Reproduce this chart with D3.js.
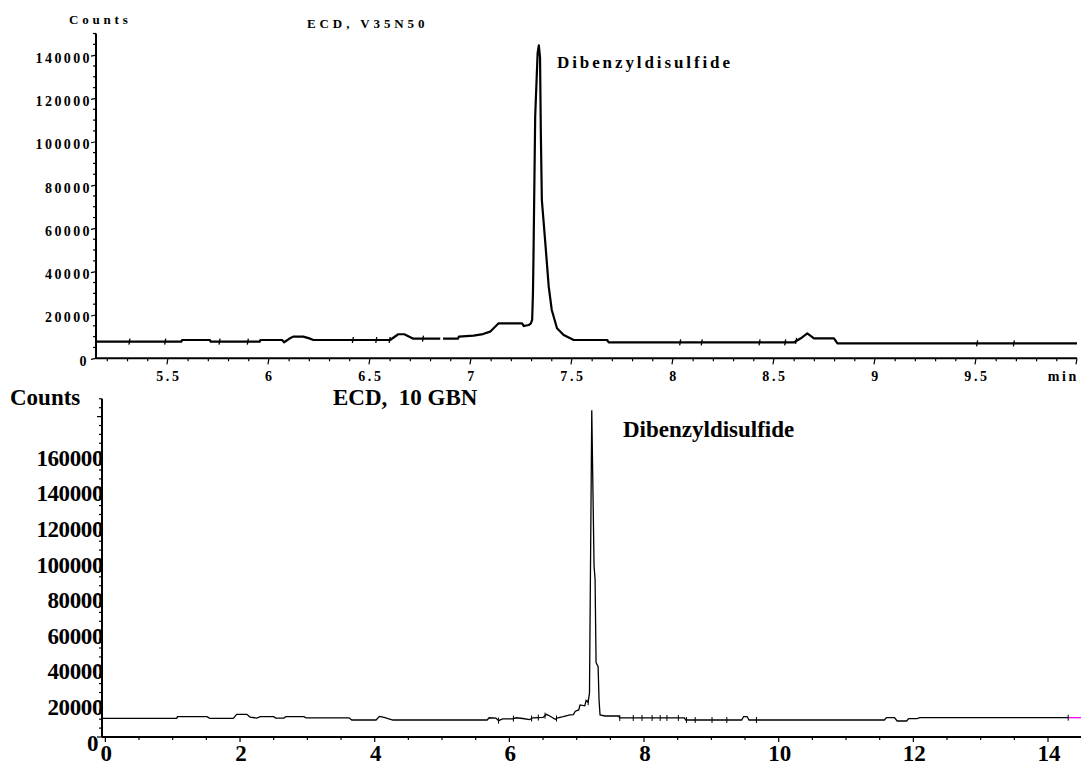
<!DOCTYPE html>
<html>
<head>
<meta charset="utf-8">
<script src="https://cdn.jsdelivr.net/npm/d3@7/dist/d3.min.js"></script>
<style>
  body { margin: 0; background: #fff; }
  svg { display: block; }
  text { font-family: "Liberation Serif", "Times New Roman", serif; font-weight: bold; fill: #000; }
</style>
</head>
<body>
<svg id="chart" width="1081" height="763"></svg>
<script>
// top chromatogram (ECD, V35N50), minutes / counts
let topTimes = [5.144, 5.566, 5.57, 5.708, 5.712, 5.954, 5.958, 6.065, 6.075, 6.1, 6.12, 6.17, 6.2, 6.22,
    6.6, 6.64, 6.67, 6.715, 6.848, null, 6.862, 6.935, 6.94, 7.013, 7.06, 7.095, 7.137, 7.253, 7.262,
    7.286, 7.296, 7.303, 7.307, 7.31, 7.318, 7.33, 7.336, 7.342, 7.346, 7.351, 7.367, 7.385, 7.40,
    7.426, 7.459, 7.509, 7.674, 7.682, 8.6, 8.633, 8.665, 8.698, 8.797, 8.814, 10.0];
let topCounts = [7670, 7670, 8450, 8450, 7670, 7670, 8450, 8450, 7400, 9000, 10000, 10000, 9200, 8450,
    8450, 11100, 11100, 9050, 9050, null, 9050, 9050, 10000, 10500, 11200, 12300, 16170, 16170, 14900,
    15400, 16000, 17700, 30160, 50000, 111600, 140900, 144500, 139000, 104000, 73100, 54600, 33100, 22300,
    13860, 10760, 8450, 8450, 7390, 7390, 9240, 11550, 9240, 9240, 6930, 6930];
let topMarkTimes = [5.312, 5.489, 5.758, 5.898, 6.418, 6.534, 6.6, 6.765, 8.038, 8.145, 8.431, 8.558, 8.612, 9.508, 9.69];
let topXTicks = [5.5, 6, 6.5, 7, 7.5, 8, 8.5, 9, 9.5];
let topYTicks = [0, 20000, 40000, 60000, 80000, 100000, 120000, 140000];

// bottom chromatogram (ECD, 10 GBN)
let bottomTimes = [-0.05, 1.06, 1.07, 1.51, 1.55, 1.9, 1.95, 2.1, 2.15, 2.25, 2.3, 2.5, 2.53, 2.65, 2.68,
    2.95, 2.98, 3.62, 3.66, 4.02, 4.07, 4.14, 4.27, 5.67, 5.7, 5.8, 5.84, 5.9, 6.05, 6.1, 6.2, 6.3, 6.35,
    6.5, 6.55, 6.6, 6.68, 6.72, 6.8, 6.9, 6.95, 6.98, 7.03, 7.05, 7.12, 7.14, 7.17, 7.19, 7.224, 7.258,
    7.273, 7.288, 7.318, 7.332, 7.347, 7.42, 7.62, 7.64, 8.6, 8.62, 9.45, 9.48, 9.53, 9.56, 11.57, 11.6,
    11.72, 11.76, 11.9, 11.93, 12.05, 12.1, 14.49];
let bottomCounts = [10500, 10500, 11400, 11400, 10500, 10500, 12750, 12750, 11200, 10600, 11400, 11400, 10600, 10600, 11400,
    11400, 10800, 10800, 9550, 9550, 11600, 11000, 9550, 9550, 10800, 10600, 9200, 10200, 10200, 10800, 10400, 9800, 10800,
    11000, 12700, 11800, 10000, 10800, 11400, 12400, 12600, 14500, 15200, 18000, 17500, 20500, 19500, 24800, 183600, 96000,
    88700, 41800, 39500, 20900, 12400, 11800, 11800, 10700, 10700, 9550, 9550, 11500, 11500, 9550, 9550, 10850,
    10850, 9000, 9000, 10300, 10300, 10850, 10850];
let bottomMarkTimes = [5.84, 6.06, 6.33, 6.43, 6.53, 6.70, 7.17, 7.64, 7.84, 7.97, 8.12, 8.24, 8.34, 8.51, 8.63, 8.76, 9.01, 9.23, 9.67, 14.3];
let bottomMagentaFrom = 14.3;
let bottomXTicks = [0, 2, 4, 6, 8, 10, 12, 14];
let bottomYTicks = [0, 20000, 40000, 60000, 80000, 100000, 120000, 140000, 160000];

let svg = d3.select("#chart");

function toPoints(times, counts) {
    return times.map(function(t, i) { return t === null ? null : [t, counts[i]]; });
}

// value of the trace at a given time, used to sit the integrator marks on the line
function traceValueAt(points, t) {
    let pts = points.filter(function(p) { return p !== null; });
    let i = d3.bisector(function(p) { return p[0]; }).left(pts, t);
    if (i <= 0) return pts[0][1];
    if (i >= pts.length) return pts[pts.length - 1][1];
    let a = pts[i - 1], b = pts[i];
    return a[1] + (b[1] - a[1]) * (t - a[0]) / (b[0] - a[0]);
}

/* ---------------- top panel ---------------- */
let xTop = d3.scaleLinear().domain([5.144, 10.0]).range([96, 1077]);
let yTop = d3.scaleLinear().domain([0, 150000]).range([358.3, 33.5]);
let topPoints = toPoints(topTimes, topCounts);

// minor + major ticks, y axis
d3.range(0, 150001, 5000).forEach(function(v) {
    let major = v % 20000 === 0;
    svg.append("line")
        .attr("x1", xTop.range()[0] - (major ? 5 : 3))
        .attr("x2", xTop.range()[0])
        .attr("y1", yTop(v) + (major ? 1 : 0))
        .attr("y2", yTop(v))
        .attr("stroke", "#000")
        .attr("stroke-width", 1.2);
});
// ticks, x axis
d3.range(52, 101, 1).forEach(function(k) {
    let t = k / 10;
    let major = k % 5 === 0;
    svg.append("line")
        .attr("x1", xTop(t))
        .attr("x2", xTop(t) + (major ? -1 : 0))
        .attr("y1", yTop(0))
        .attr("y2", yTop(0) + (major ? 6 : 3))
        .attr("stroke", "#000")
        .attr("stroke-width", 1.2);
});

svg.append("line")
    .attr("x1", xTop.range()[0]).attr("x2", xTop.range()[0])
    .attr("y1", yTop(150000)).attr("y2", yTop(0))
    .attr("stroke", "#000").attr("stroke-width", 2);
svg.append("line")
    .attr("x1", xTop.range()[0]).attr("x2", xTop.range()[1])
    .attr("y1", yTop(0)).attr("y2", yTop(0))
    .attr("stroke", "#000").attr("stroke-width", 2);

svg.selectAll(".topYLabel")
    .data(topYTicks)
    .enter()
    .append("text")
    .attr("class", "topYLabel")
    .attr("x", function(d) { return d === 0 ? 89 : 92; })
    .attr("y", function(d) { return yTop(d) + 7.5; })
    .text(function(d) { return d; })
    .style("font-size", "14px")
    .style("letter-spacing", "2.4px")
    .style("text-anchor", "end");

svg.selectAll(".topXLabel")
    .data(topXTicks)
    .enter()
    .append("text")
    .attr("class", "topXLabel")
    .attr("x", function(d) { return xTop(d) + 1; })
    .attr("y", 381)
    .text(function(d) { return d; })
    .style("font-size", "14px")
    .style("letter-spacing", "2.6px")
    .style("text-anchor", "middle");
svg.append("text")
    .attr("x", xTop(10) + 2)
    .attr("y", 381)
    .text("min")
    .style("font-size", "14px")
    .style("letter-spacing", "2.6px")
    .style("text-anchor", "end");

svg.append("path")
    .datum(topPoints)
    .attr("d", d3.line()
        .defined(function(d) { return d !== null; })
        .x(function(d) { return xTop(d[0]); })
        .y(function(d) { return yTop(d[1]); }))
    .attr("fill", "none")
    .attr("stroke", "#000")
    .attr("stroke-width", 2.2)
    .attr("stroke-linejoin", "round");

svg.selectAll(".topMark")
    .data(topMarkTimes)
    .enter()
    .append("line")
    .attr("class", "topMark")
    .attr("x1", function(d) { return xTop(d); })
    .attr("x2", function(d) { return xTop(d) - 1; })
    .attr("y1", function(d) { return yTop(traceValueAt(topPoints, d)) - 3; })
    .attr("y2", function(d) { return yTop(traceValueAt(topPoints, d)) + 3; })
    .attr("stroke", "#000")
    .attr("stroke-width", 1.3);

svg.append("text")
    .attr("x", 69).attr("y", 24)
    .text("Counts")
    .style("font-size", "13px")
    .style("letter-spacing", "3.8px");
svg.append("text")
    .attr("x", 307).attr("y", 28)
    .text("ECD, V35N50")
    .style("font-size", "13px")
    .style("letter-spacing", "3.9px");
svg.append("text")
    .attr("x", 557).attr("y", 68)
    .text("Dibenzyldisulfide")
    .style("font-size", "17px")
    .style("letter-spacing", "2.9px");

/* ---------------- bottom panel ---------------- */
let xBot = d3.scaleLinear().domain([-0.05, 14.49]).range([102, 1081]);
let yBot = d3.scaleLinear().domain([0, 190000]).range([737, 398.8]);
let bottomPoints = toPoints(bottomTimes, bottomCounts);

d3.range(0, 190001, 5000).forEach(function(v) {
    let major = v % 20000 === 0;
    svg.append("line")
        .attr("x1", xBot.range()[0] - (major ? 5 : 3))
        .attr("x2", xBot.range()[0])
        .attr("y1", yBot(v))
        .attr("y2", yBot(v))
        .attr("stroke", "#000")
        .attr("stroke-width", 1.2);
});
d3.range(0, 29, 1).forEach(function(k) {
    let t = k / 2;
    let major = k % 4 === 0;
    svg.append("line")
        .attr("x1", xBot(t))
        .attr("x2", xBot(t))
        .attr("y1", yBot(0))
        .attr("y2", yBot(0) + (major ? 5 : 3))
        .attr("stroke", "#000")
        .attr("stroke-width", 1.2);
});

svg.append("line")
    .attr("x1", xBot.range()[0]).attr("x2", xBot.range()[0])
    .attr("y1", yBot.range()[1]).attr("y2", yBot(0))
    .attr("stroke", "#000").attr("stroke-width", 2);
svg.append("line")
    .attr("x1", xBot.range()[0]).attr("x2", xBot.range()[1])
    .attr("y1", yBot(0)).attr("y2", yBot(0))
    .attr("stroke", "#000").attr("stroke-width", 2);

svg.selectAll(".botYLabel")
    .data(bottomYTicks)
    .enter()
    .append("text")
    .attr("class", "botYLabel")
    .attr("x", function(d) { return d === 0 ? 98 : 103; })
    .attr("y", function(d) { return yBot(d) + 13.5; })
    .text(function(d) { return d; })
    .style("font-size", "23px")
    .style("letter-spacing", "-0.4px")
    .style("text-anchor", "end");

svg.selectAll(".botXLabel")
    .data(bottomXTicks)
    .enter()
    .append("text")
    .attr("class", "botXLabel")
    .attr("x", function(d) { return xBot(d) + 1; })
    .attr("y", 761)
    .text(function(d) { return d; })
    .style("font-size", "23px")
    .style("text-anchor", "middle");

let lineBot = d3.line()
    .x(function(d) { return xBot(d[0]); })
    .y(function(d) { return yBot(d[1]); });

svg.append("path")
    .datum(bottomPoints.filter(function(d) { return d[0] <= bottomMagentaFrom; })
        .concat([[bottomMagentaFrom, traceValueAt(bottomPoints, bottomMagentaFrom)]]))
    .attr("d", lineBot)
    .attr("fill", "none")
    .attr("stroke", "#000")
    .attr("stroke-width", 1.3);
svg.append("path")
    .datum([[bottomMagentaFrom, traceValueAt(bottomPoints, bottomMagentaFrom)]]
        .concat(bottomPoints.filter(function(d) { return d[0] > bottomMagentaFrom; })))
    .attr("d", lineBot)
    .attr("fill", "none")
    .attr("stroke", "#ff00ff")
    .attr("stroke-width", 1.3);

svg.selectAll(".botMark")
    .data(bottomMarkTimes)
    .enter()
    .append("line")
    .attr("class", "botMark")
    .attr("x1", function(d) { return xBot(d); })
    .attr("x2", function(d) { return xBot(d); })
    .attr("y1", function(d) { return yBot(traceValueAt(bottomPoints, d)) - 3; })
    .attr("y2", function(d) { return yBot(traceValueAt(bottomPoints, d)) + 3; })
    .attr("stroke", "#000")
    .attr("stroke-width", 1);

svg.append("text")
    .attr("x", 10).attr("y", 405)
    .text("Counts")
    .style("font-size", "23px");
svg.append("text")
    .attr("x", 333).attr("y", 405)
    .text("ECD,\u00a0\u00a010 GBN")
    .style("font-size", "23px");
svg.append("text")
    .attr("x", 623).attr("y", 437)
    .text("Dibenzyldisulfide")
    .style("font-size", "23px");
</script>
</body>
</html>
